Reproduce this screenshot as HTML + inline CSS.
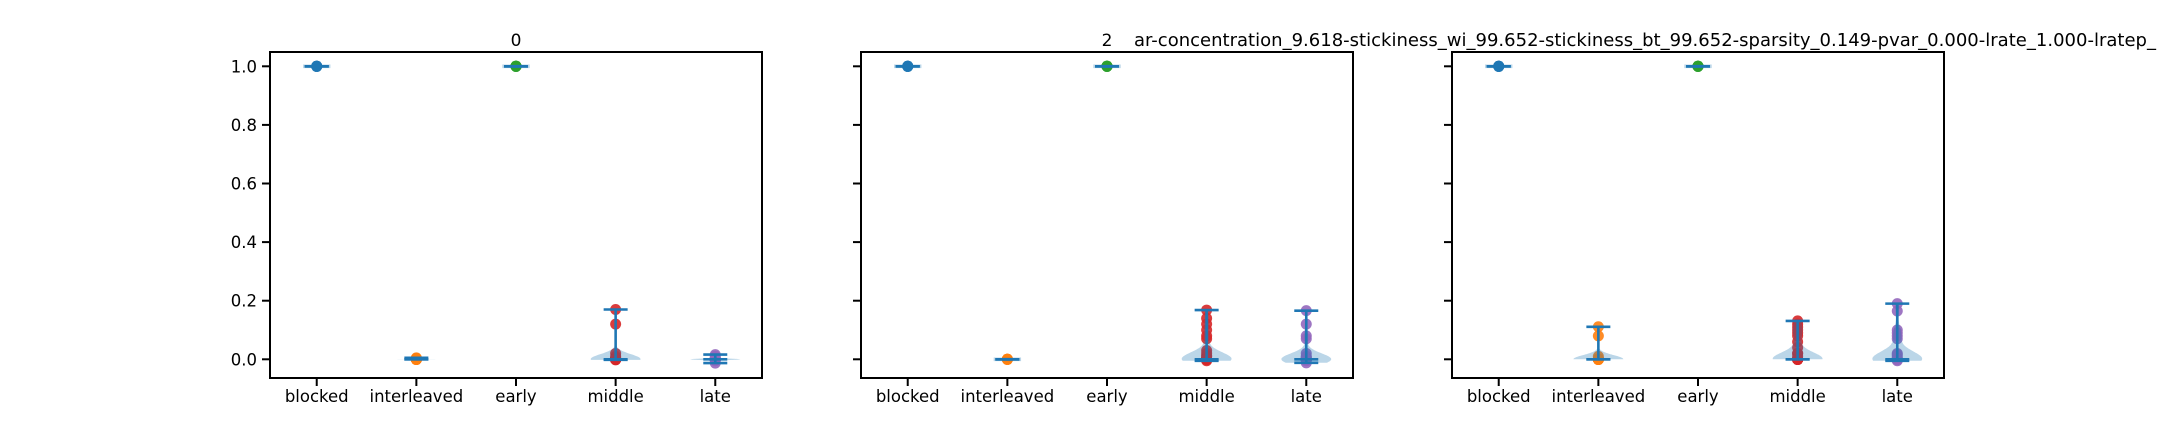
<!DOCTYPE html>
<html><head><meta charset="utf-8">
<style>
html,body{margin:0;padding:0;background:#fff;}
svg{display:block;font-family:"DejaVu Sans","Liberation Sans",sans-serif;}
</style></head>
<body>
<svg id="fig" width="2160" height="432" viewBox="0 0 2160 432" xmlns="http://www.w3.org/2000/svg">
<rect width="2160" height="432" fill="#fff"/>
<text x="516" y="46" font-size="17" text-anchor="middle">0</text>
<text x="1107" y="46" font-size="17" text-anchor="middle">2</text>
<text x="1134" y="46" font-size="17.5" textLength="1022" lengthAdjust="spacingAndGlyphs">ar-concentration_9.618-stickiness_wi_99.652-stickiness_bt_99.652-sparsity_0.149-pvar_0.000-lrate_1.000-lratep_</text>
</svg>
<script>
const categories = ["blocked","interleaved","early","middle","late"];
const yTicks = [0.0,0.2,0.4,0.6,0.8,1.0];
const yTickLabels = ["0.0","0.2","0.4","0.6","0.8","1.0"];
const panel0 = [
  [1,1,1,1,1],
  [0.0,0.005,0.0,0.003,0,0,0,0,0,0,0,0,0,0,0,0,0,0,0,0],
  [1,1,1,1,1],
  [0.17,0.12,0.02,0.01,0.005,0,0,0,0,0,0,0,0,0,0,0,0,0,0,0,0,0,0,0,0,0,0,0,0,0,0,0,0,0,0,-0.002],
  [0.016,0.01,0.004,0,0,0,0,0,0,0,0,0,0,0,0,0,0,0,0,0,0,0,0,0,0,0,0,0,-0.005,-0.013]
];
const panel1 = [
  [1,1,1,1,1],
  [0,0,0,0,0],
  [1,1,1,1,1],
  [0.168,0.14,0.12,0.1,0.08,0.07,0.03,0.02,0.012,0.01,0,0,0,0,0,0,0,0,0,0,0,0,0,0,0,0,0,0,0,0,0,0,0,0,-0.005],
  [0.166,0.12,0.08,0.07,0.02,0.01,0.008,0,0,0,0,0,0,0,0,0,0,0,0,0,0,0,0,0,0,0,0,0,0,0,-0.005,-0.012]
];
const panel2 = [
  [1,1,1,1,1],
  [0.111,0.08,0.01,0,0,0,0,0,0,0,0,0,0,0,0,0,0,0,0,0,0,0,0,0,0],
  [1,1,1,1,1],
  [0.131,0.12,0.11,0.1,0.09,0.08,0.06,0.04,0.02,0.02,0.01,0,0,0,0,0,0,0,0,0,0,0,0,0,0,0,0,0,0,0,0,0],
  [0.19,0.165,0.1,0.09,0.08,0.07,0.02,0.016,0.01,0,0,0,0,0,0,0,0,0,0,0,0,0,0,0,0,0,0,0,0,-0.005]
];
const panels = [panel0, panel1, panel2];
const colors = ["#1f77b4","#ff7f0e","#2ca02c","#d62728","#9467bd"];
const axLeft = [270, 861, 1452];
const axW = 492, axTop = 52, axBot = 378;
const NS = "http://www.w3.org/2000/svg";
const svg = document.getElementById('fig');
function el(tag, attrs, parent){const e=document.createElementNS(NS,tag);for(const k in attrs)e.setAttribute(k,attrs[k]);(parent||svg).appendChild(e);return e;}
function yS(v){return 359.3 - v*(359.3-66.3);}
function median(a){const s=[...a].sort((p,q)=>p-q);const n=s.length;return n%2?s[(n-1)/2]:(s[n/2-1]+s[n/2])/2;}
panels.forEach((data,pi)=>{
  const L=axLeft[pi];
  const xlo=1-0.469, xhi=5+0.469;
  const xS=v=>L+(v-xlo)/(xhi-xlo)*axW;
  const g=el('g',{});
  
  
  data.forEach((vals,ci)=>{
    const cx=xS(ci+1);
    vals.forEach(v=>{
      const c=el('circle',{cx:cx,cy:yS(v),r:5.5,fill:colors[ci],'fill-opacity':0.9},g);
      
      
    });
    const n=vals.length, mn=Math.min(...vals), mx=Math.max(...vals);
    const mean=vals.reduce((a,b)=>a+b,0)/n;
    const sd=Math.sqrt(vals.reduce((a,b)=>a+(b-mean)*(b-mean),0)/Math.max(1,n-1));
    const halfMax=(xS(1.25)-xS(1));
    let d='';
    if(sd>1e-9){
      const bw=sd*Math.pow(n,-0.2);
      const pts=[];const steps=120;
      for(let i=0;i<=steps;i++){const y=mn+(mx-mn)*i/steps;let s=0;vals.forEach(v=>{s+=Math.exp(-0.5*((y-v)/bw)**2);});pts.push([y,s]);}
      const smax=Math.max(...pts.map(p=>p[1]));
      const right=pts.map(p=>[cx+p[1]/smax*halfMax,yS(p[0])]);
      const left=pts.slice().reverse().map(p=>[cx-p[1]/smax*halfMax,yS(p[0])]);
      d='M'+right.concat(left).map(p=>p[0].toFixed(1)+','+p[1].toFixed(1)).join('L')+'Z';
    } else {
      const y=yS(mn), w=halfMax*0.55;
      d=`M${cx-w},${y-1.8}L${cx+w},${y-1.8}L${cx+w},${y+1.8}L${cx-w},${y+1.8}Z`;
    }
    const body=el('path',{d:d,fill:'#1f77b4','fill-opacity':0.3},g);
    
    
    const med=median(vals);
    const bh=12;
    const vl=el('line',{x1:cx,x2:cx,y1:yS(mx),y2:yS(mn),stroke:'#1f77b4','stroke-width':2.6},g);
    
    
    [mx,mn,med].forEach((v,k)=>{
      const b=el('line',{x1:cx-bh,x2:cx+bh,y1:yS(v),y2:yS(v),stroke:'#1f77b4','stroke-width':2.6},g);
      
      
    });
    const t=el('line',{x1:cx,x2:cx,y1:axBot,y2:axBot+8,stroke:'#000','stroke-width':2},g);
    
    
    const tl=el('text',{x:cx,y:axBot+24,'font-size':16.5,'text-anchor':'middle'},g);
    tl.textContent=categories[ci];
    
    
  });
  yTicks.forEach((v,k)=>{
    const t=el('line',{x1:L-8,x2:L,y1:yS(v),y2:yS(v),stroke:'#000','stroke-width':2},g);
    
    
    if(pi===0){
      const tl=el('text',{x:L-13,y:yS(v)+6,'font-size':16.5,'text-anchor':'end'},g);
      tl.textContent=yTickLabels[k];
      
      
    }
  });
  const fr=el('rect',{x:L,y:axTop,width:axW,height:axBot-axTop,fill:'none',stroke:'#000','stroke-width':2},g);
  
  
});
</script>
</body></html>
